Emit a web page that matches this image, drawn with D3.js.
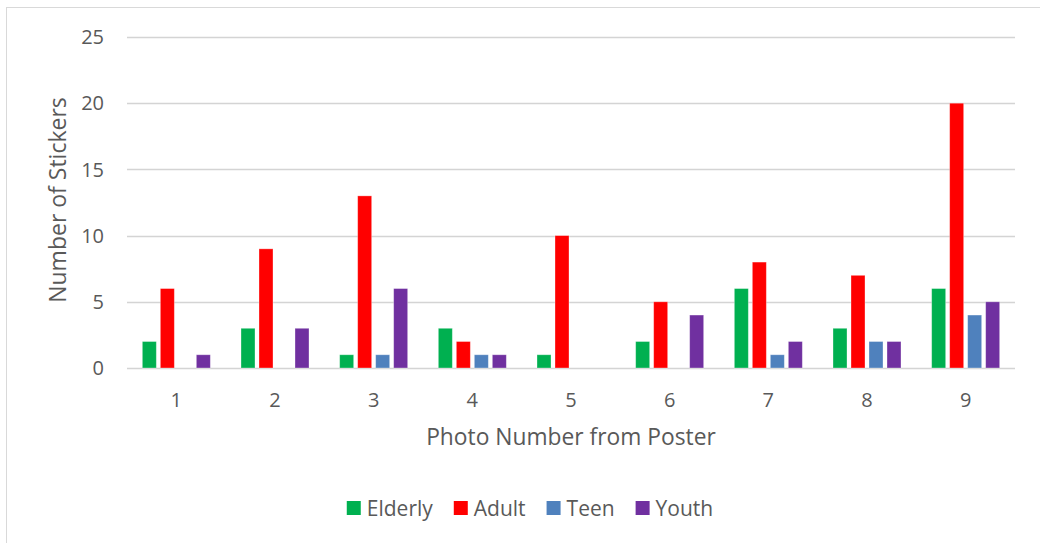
<!DOCTYPE html>
<html>
<head>
<meta charset="utf-8">
<script src="https://cdn.jsdelivr.net/npm/d3@7"></script>
<style>
  body { margin: 0; background: #fff; }
  text { font-family: "Open Sans", sans-serif; fill: #595959; }
</style>
</head>
<body>
<script>
// chart data
var photos = ["1", "2", "3", "4", "5", "6", "7", "8", "9"];
var seriesNames = ["Elderly", "Adult", "Teen", "Youth"];
var elderly = [2, 3, 1, 3, 1, 2, 6, 3, 6];
var adult = [6, 9, 13, 2, 10, 5, 8, 7, 20];
var teen = [0, 0, 1, 1, 0, 0, 1, 2, 4];
var youth = [1, 3, 6, 1, 0, 4, 2, 2, 5];
var yTicks = [0, 5, 10, 15, 20, 25];
var colors = ["#00b050", "#ff0000", "#4f81bd", "#7030a0"];

var width = 1040, height = 543;
var values = [elderly, adult, teen, youth];

var svg = d3.select("body").append("svg")
  .attr("width", width).attr("height", height);

// chart frame (only top + left visible in the crop)
svg.append("rect")
  .attr("x", 6.5).attr("y", 7.5)
  .attr("width", 1100).attr("height", 600)
  .attr("fill", "none").attr("stroke", "#d9d9d9");

var x = d3.scaleBand().domain(photos).range([127, 1015]);
var y = d3.scaleLinear().domain([0, 25]).range([368, 37]);
var groupW = 68;
var x1 = d3.scaleBand().domain(seriesNames)
  .range([0, groupW]).paddingInner(4 / 18).paddingOuter(0);

// gridlines
svg.append("g").selectAll("line").data(yTicks).join("line")
  .attr("x1", 127).attr("x2", 1015)
  .attr("y1", d => Math.round(y(d)) + 0.5).attr("y2", d => Math.round(y(d)) + 0.5)
  .attr("stroke", "#d4d4d4").attr("stroke-width", 1.5);

// y tick labels
svg.append("g").selectAll("text").data(yTicks).join("text")
  .attr("x", 104).attr("y", d => y(d))
  .attr("dy", "0.36em")
  .attr("text-anchor", "end")
  .style("font-size", "20px")
  .text(d => d);

// x tick labels
svg.append("g").selectAll("text").data(photos).join("text")
  .attr("x", d => x(d) + x.bandwidth() / 2).attr("y", 407)
  .attr("text-anchor", "middle")
  .style("font-size", "20px")
  .text(d => d);

// bars
var rows = [];
seriesNames.forEach(function (s, i) {
  photos.forEach(function (p, j) {
    rows.push({ series: s, photo: p, value: values[i][j], color: colors[i] });
  });
});
var off = (x.bandwidth() - groupW) / 2;
svg.append("g").selectAll("rect").data(rows.filter(d => d.value > 0)).join("rect")
  .attr("x", d => x(d.photo) + off + x1(d.series))
  .attr("y", d => y(d.value))
  .attr("width", x1.bandwidth())
  .attr("height", d => y(0) - y(d.value))
  .attr("fill", d => d.color)
  .attr("stroke", "#fff").attr("stroke-opacity", 0.4).attr("stroke-width", 0.8);

// axis titles
svg.append("text")
  .attr("transform", "translate(66,200) rotate(-90)")
  .attr("text-anchor", "middle")
  .style("font-size", "23px")
  .text("Number of Stickers");

svg.append("text")
  .attr("x", 571).attr("y", 445)
  .attr("text-anchor", "middle")
  .style("font-size", "22.8px")
  .text("Photo Number from Poster");

// legend
var legend = svg.append("g");
var lx = 0;
seriesNames.forEach(function (s, i) {
  var g = legend.append("g").attr("transform", "translate(" + lx + ",0)");
  g.append("rect").attr("x", 0).attr("y", 501).attr("width", 14).attr("height", 14)
    .attr("fill", colors[i]);
  var t = g.append("text").attr("x", 20).attr("y", 516)
    .style("font-size", "21px").text(s);
  lx += 20 + t.node().getComputedTextLength() + 21;
});
var legW = lx - 21;
legend.attr("transform", "translate(" + (530 - legW / 2) + ",0)");
</script>
</body>
</html>
